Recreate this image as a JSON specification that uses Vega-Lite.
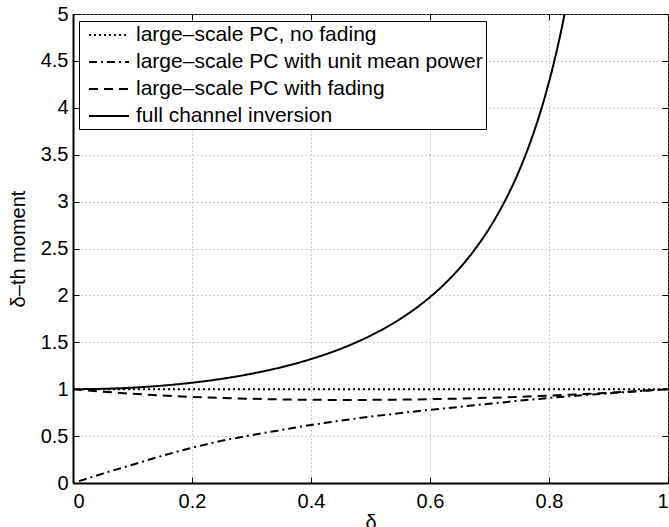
{
  "$schema": "https://vega.github.io/schema/vega-lite/v6.json",
  "width": 595,
  "height": 469,
  "autosize": {"type": "none"},
  "padding": {"left": 73, "top": 14, "right": 1, "bottom": 44},
  "background": "white",
  "config": {
    "font": "Liberation Sans",
    "view": {"stroke": "black", "strokeWidth": 1},
    "axis": {
      "labelFont": "Liberation Sans",
      "titleFont": "Liberation Sans",
      "labelColor": "black",
      "titleColor": "black",
      "labelFontSize": 20,
      "titleFontSize": 20,
      "titleFontWeight": "normal",
      "domainColor": "black",
      "tickColor": "black",
      "gridColor": "#9a9a9a",
      "gridDash": [1, 3],
      "gridWidth": 1,
      "gridOpacity": 1
    }
  },
  "datasets": {
    "curves": [
      {"d": 0, "v": 1, "s": "large–scale PC, no fading"},
      {"d": 1, "v": 1, "s": "large–scale PC, no fading"},

      {"d": 0.01, "v": 0.02, "s": "large–scale PC with unit mean power"},
      {"d": 0.05, "v": 0.1, "s": "large–scale PC with unit mean power"},
      {"d": 0.1, "v": 0.195, "s": "large–scale PC with unit mean power"},
      {"d": 0.15, "v": 0.29, "s": "large–scale PC with unit mean power"},
      {"d": 0.2, "v": 0.375, "s": "large–scale PC with unit mean power"},
      {"d": 0.25, "v": 0.45, "s": "large–scale PC with unit mean power"},
      {"d": 0.3, "v": 0.51, "s": "large–scale PC with unit mean power"},
      {"d": 0.35, "v": 0.565, "s": "large–scale PC with unit mean power"},
      {"d": 0.4, "v": 0.618, "s": "large–scale PC with unit mean power"},
      {"d": 0.45, "v": 0.665, "s": "large–scale PC with unit mean power"},
      {"d": 0.5, "v": 0.707, "s": "large–scale PC with unit mean power"},
      {"d": 0.55, "v": 0.745, "s": "large–scale PC with unit mean power"},
      {"d": 0.6, "v": 0.78, "s": "large–scale PC with unit mean power"},
      {"d": 0.65, "v": 0.812, "s": "large–scale PC with unit mean power"},
      {"d": 0.7, "v": 0.845, "s": "large–scale PC with unit mean power"},
      {"d": 0.75, "v": 0.877, "s": "large–scale PC with unit mean power"},
      {"d": 0.8, "v": 0.907, "s": "large–scale PC with unit mean power"},
      {"d": 0.85, "v": 0.932, "s": "large–scale PC with unit mean power"},
      {"d": 0.9, "v": 0.956, "s": "large–scale PC with unit mean power"},
      {"d": 0.95, "v": 0.979, "s": "large–scale PC with unit mean power"},
      {"d": 1, "v": 1, "s": "large–scale PC with unit mean power"},

      {"d": 0, "v": 1, "s": "large–scale PC with fading"},
      {"d": 0.05, "v": 0.9735, "s": "large–scale PC with fading"},
      {"d": 0.1, "v": 0.9514, "s": "large–scale PC with fading"},
      {"d": 0.15, "v": 0.933, "s": "large–scale PC with fading"},
      {"d": 0.2, "v": 0.9182, "s": "large–scale PC with fading"},
      {"d": 0.25, "v": 0.9064, "s": "large–scale PC with fading"},
      {"d": 0.3, "v": 0.8975, "s": "large–scale PC with fading"},
      {"d": 0.35, "v": 0.8912, "s": "large–scale PC with fading"},
      {"d": 0.4, "v": 0.8873, "s": "large–scale PC with fading"},
      {"d": 0.45, "v": 0.8857, "s": "large–scale PC with fading"},
      {"d": 0.5, "v": 0.8862, "s": "large–scale PC with fading"},
      {"d": 0.55, "v": 0.8889, "s": "large–scale PC with fading"},
      {"d": 0.6, "v": 0.8935, "s": "large–scale PC with fading"},
      {"d": 0.65, "v": 0.9001, "s": "large–scale PC with fading"},
      {"d": 0.7, "v": 0.9086, "s": "large–scale PC with fading"},
      {"d": 0.75, "v": 0.9191, "s": "large–scale PC with fading"},
      {"d": 0.8, "v": 0.9314, "s": "large–scale PC with fading"},
      {"d": 0.85, "v": 0.9456, "s": "large–scale PC with fading"},
      {"d": 0.9, "v": 0.9618, "s": "large–scale PC with fading"},
      {"d": 0.95, "v": 0.9799, "s": "large–scale PC with fading"},
      {"d": 1, "v": 1, "s": "large–scale PC with fading"},

      {"d": 0, "v": 1, "s": "full channel inversion"},
      {"d": 0.05, "v": 1.0041, "s": "full channel inversion"},
      {"d": 0.1, "v": 1.0166, "s": "full channel inversion"},
      {"d": 0.15, "v": 1.038, "s": "full channel inversion"},
      {"d": 0.2, "v": 1.069, "s": "full channel inversion"},
      {"d": 0.25, "v": 1.1107, "s": "full channel inversion"},
      {"d": 0.3, "v": 1.165, "s": "full channel inversion"},
      {"d": 0.35, "v": 1.2341, "s": "full channel inversion"},
      {"d": 0.4, "v": 1.3213, "s": "full channel inversion"},
      {"d": 0.45, "v": 1.4313, "s": "full channel inversion"},
      {"d": 0.5, "v": 1.5708, "s": "full channel inversion"},
      {"d": 0.55, "v": 1.7494, "s": "full channel inversion"},
      {"d": 0.575, "v": 1.8577, "s": "full channel inversion"},
      {"d": 0.6, "v": 1.982, "s": "full channel inversion"},
      {"d": 0.625, "v": 2.1253, "s": "full channel inversion"},
      {"d": 0.65, "v": 2.2918, "s": "full channel inversion"},
      {"d": 0.675, "v": 2.4871, "s": "full channel inversion"},
      {"d": 0.7, "v": 2.7183, "s": "full channel inversion"},
      {"d": 0.71, "v": 2.8229, "s": "full channel inversion"},
      {"d": 0.725, "v": 2.9953, "s": "full channel inversion"},
      {"d": 0.74, "v": 3.1891, "s": "full channel inversion"},
      {"d": 0.75, "v": 3.3322, "s": "full channel inversion"},
      {"d": 0.76, "v": 3.4879, "s": "full channel inversion"},
      {"d": 0.775, "v": 3.7489, "s": "full channel inversion"},
      {"d": 0.79, "v": 4.0493, "s": "full channel inversion"},
      {"d": 0.8, "v": 4.2758, "s": "full channel inversion"},
      {"d": 0.805, "v": 4.3982, "s": "full channel inversion"},
      {"d": 0.81, "v": 4.5273, "s": "full channel inversion"},
      {"d": 0.815, "v": 4.6636, "s": "full channel inversion"},
      {"d": 0.82, "v": 4.8077, "s": "full channel inversion"},
      {"d": 0.825, "v": 4.9604, "s": "full channel inversion"},
      {"d": 0.83, "v": 5.1224, "s": "full channel inversion"}
    ]
  },
  "data": {"name": "curves"},
  "layer": [
    {
      "mark": {"type": "line", "color": "black", "strokeWidth": 2, "clip": true, "interpolate": "monotone"},
      "encoding": {
        "x": {
          "field": "d", "type": "quantitative",
          "scale": {"domain": [0, 1], "nice": false, "zero": false},
          "axis": {
            "title": "δ", "values": [0, 0.2, 0.4, 0.6, 0.8, 1], "format": "~g",
            "grid": true, "domainWidth": 2, "tickSize": -6, "labelPadding": 14,
            "titlePadding": 1
          }
        },
        "y": {
          "field": "v", "type": "quantitative",
          "scale": {"domain": [0, 5], "nice": false, "zero": false},
          "axis": {
            "title": "δ–th moment", "values": [0, 0.5, 1, 1.5, 2, 2.5, 3, 3.5, 4, 4.5, 5], "format": "~g",
            "grid": true, "domainWidth": 2, "tickSize": -6, "labelPadding": 11,
            "titlePadding": 12
          }
        },
        "strokeDash": {
          "field": "s", "type": "nominal",
          "scale": {
            "domain": ["large–scale PC, no fading", "large–scale PC with unit mean power", "large–scale PC with fading", "full channel inversion"],
            "range": [[2, 3], [8, 4, 2, 4], [9, 6], [1, 0]]
          },
          "legend": {
            "title": null, "orient": "none", "legendX": 6, "legendY": 7,
            "padding": 3, "symbolOffset": 16, "symbolType": "M-2,0H2", "symbolSize": 400,
            "symbolStrokeWidth": 2, "symbolStrokeColor": "black", "symbolFillColor": "transparent",
            "labelFont": "Liberation Sans", "labelFontSize": 21, "labelColor": "black",
            "labelOffset": 16, "labelLimit": 600, "rowPadding": 6,
            "strokeColor": "black", "fillColor": "white", "cornerRadius": 0
          }
        }
      }
    },
    {
      "mark": {"type": "line", "strokeOpacity": 0, "clip": true},
      "encoding": {
        "x": {
          "field": "d", "type": "quantitative",
          "axis": {"orient": "top", "title": null, "labels": false, "grid": false, "domain": false,
                   "values": [0, 0.2, 0.4, 0.6, 0.8, 1], "tickSize": -6}
        },
        "y": {
          "field": "v", "type": "quantitative",
          "axis": {"orient": "right", "title": null, "labels": false, "grid": false, "domain": false,
                   "values": [0, 0.5, 1, 1.5, 2, 2.5, 3, 3.5, 4, 4.5, 5], "tickSize": -6}
        },
        "detail": {"field": "s", "type": "nominal"}
      }
    }
  ],
  "resolve": {"axis": {"x": "independent", "y": "independent"}}
}
